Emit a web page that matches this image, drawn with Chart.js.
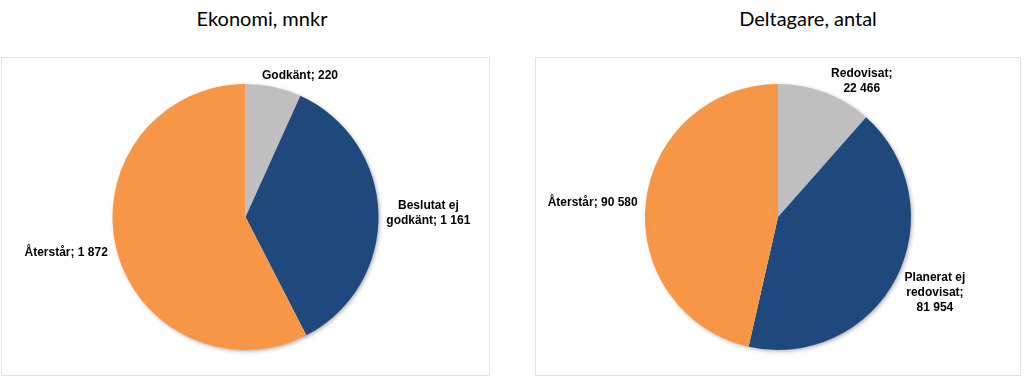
<!DOCTYPE html>
<html>
<head>
<meta charset="utf-8">
<script src="https://cdn.jsdelivr.net/npm/chart.js@4.4.1/dist/chart.umd.min.js"></script>
<style>
  html, body { margin: 0; padding: 0; background: #ffffff; }
  body { width: 1024px; height: 376px; position: relative; overflow: hidden; }
  .title { position: absolute; top: 6px; font-family: Lato, "Open Sans", sans-serif; font-size: 20px; color: #000; text-align: center; white-space: nowrap; }
  .box { position: absolute; top: 57px; height: 317px; border: 1px solid #e3e3e3; box-sizing: content-box; }
  .box canvas { display: block; }
</style>
</head>
<body>
<div class="title" style="left:162px;width:200px;">Ekonomi, mnkr</div>
<div class="title" style="left:708px;width:200px;">Deltagare, antal</div>
<div class="box" style="left:1px;width:487px;"><canvas id="c1" width="487" height="317"></canvas></div>
<div class="box" style="left:535px;width:484px;"><canvas id="c2" width="484" height="317"></canvas></div>
<script>
// ---- Data ----
const ekonomiCategories = ["Godkänt", "Beslutat ej godkänt", "Återstår"];
const ekonomiValues = [220, 1161, 1872];
const ekonomiValueLabels = ["220", "1 161", "1 872"];

const deltagareCategories = ["Redovisat", "Planerat ej redovisat", "Återstår"];
const deltagareValues = [22466, 81954, 90580];
const deltagareValueLabels = ["22 466", "81 954", "90 580"];

// ---- Style ----
const sliceColors = ["#BFBFBF", "#1F497D", "#F79646"];

// label text lines (as in the original wrapping)
const ekonomiLabelLines = [
  ["Godkänt; " + ekonomiValueLabels[0]],
  ["Beslutat ej", "godkänt; " + ekonomiValueLabels[1]],
  [ekonomiCategories[2] + "; " + ekonomiValueLabels[2]]
];
const deltagareLabelLines = [
  ["Redovisat;", deltagareValueLabels[0]],
  ["Planerat ej", "redovisat;", deltagareValueLabels[1]],
  [deltagareCategories[2] + "; " + deltagareValueLabels[2]]
];
// label placement relative to pie centre, in units of radius
const ekonomiLabelPlace = [
  { fx: 0.41, fy: -1.065, align: "center" },
  { fx: 1.375, fy: -0.03, align: "center" },
  { fx: -1.035, fy: 0.265, align: "right" }
];
const deltagareLabelPlace = [
  { fx: 0.63, fy: -1.02, align: "center" },
  { fx: 1.18, fy: 0.57, align: "center" },
  { fx: -1.055, fy: -0.11, align: "right" }
];

const shadowPlugin = {
  id: "pieShadow",
  beforeDatasetsDraw(chart) {
    const arc = chart.getDatasetMeta(0).data[0];
    if (!arc) return;
    const ctx = chart.ctx;
    ctx.save();
    ctx.shadowColor = "rgba(0,0,0,0.35)";
    ctx.shadowBlur = 4;
    ctx.shadowOffsetX = 1.5;
    ctx.shadowOffsetY = 1.5;
    ctx.fillStyle = "#ffffff";
    ctx.beginPath();
    ctx.arc(arc.x, arc.y, arc.outerRadius - 0.5, 0, Math.PI * 2);
    ctx.fill();
    ctx.restore();
  }
};

const labelPlugin = {
  id: "sliceLabels",
  afterDatasetsDraw(chart, args, opts) {
    const meta = chart.getDatasetMeta(0);
    const ctx = chart.ctx;
    ctx.save();
    ctx.font = "bold 12px 'Liberation Sans', Arial, sans-serif";
    ctx.fillStyle = "#000000";
    ctx.textBaseline = "middle";
    meta.data.forEach((arc, i) => {
      const p = opts.place[i];
      const lines = opts.lines[i];
      const cx = arc.x + p.fx * arc.outerRadius;
      const cy = arc.y + p.fy * arc.outerRadius;
      const lh = 15;
      ctx.textAlign = p.align;
      lines.forEach((t, k) => {
        ctx.fillText(t, cx, cy + (k - (lines.length - 1) / 2) * lh);
      });
    });
    ctx.restore();
  }
};

function makePie(id, labels, values, lines, place) {
  return new Chart(document.getElementById(id), {
    type: "pie",
    data: {
      labels: labels,
      datasets: [{
        data: values,
        backgroundColor: sliceColors,
        borderWidth: 0,
        hoverOffset: 0
      }]
    },
    options: {
      responsive: false,
      animation: false,
      layout: { padding: { top: 26, bottom: 25, left: 10, right: 10 } },
      plugins: {
        legend: { display: false },
        tooltip: { enabled: false },
        title: { display: false },
        sliceLabels: { lines: lines, place: place }
      }
    },
    plugins: [shadowPlugin, labelPlugin]
  });
}

makePie("c1", ekonomiCategories, ekonomiValues, ekonomiLabelLines, ekonomiLabelPlace);
makePie("c2", deltagareCategories, deltagareValues, deltagareLabelLines, deltagareLabelPlace);
</script>
</body>
</html>
